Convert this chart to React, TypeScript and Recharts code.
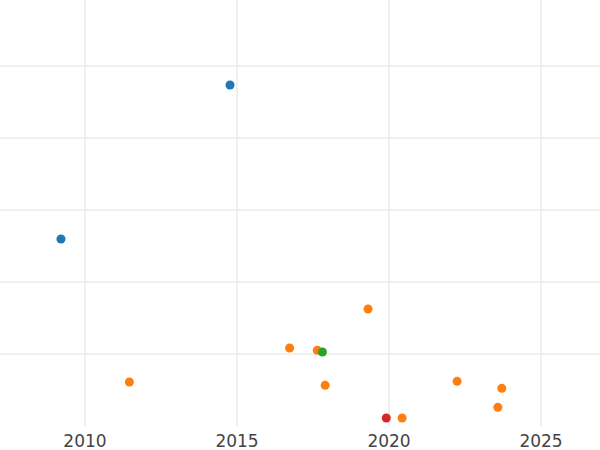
import React from "react";
import { ScatterChart, Scatter, XAxis, YAxis, CartesianGrid } from "recharts";

const xTicks = [2010, 2015, 2020, 2025];
const yTicks = [1, 2, 3, 4, 5];

const blueX = [2014.77, 2009.21];
const blueY = [4.736, 2.597];

const orangeX = [2011.46, 2016.73, 2019.31, 2017.64, 2017.9, 2020.43, 2022.24, 2023.71, 2023.58];
const orangeY = [0.611, 1.083, 1.625, 1.051, 0.565, 0.111, 0.62, 0.523, 0.259];

const greenX = [2017.81];
const greenY = [1.028];

const redX = [2019.91];
const redY = [0.111];

const toPts = (xs: number[], ys: number[]) => xs.map((x, i) => ({ x, y: ys[i] }));

const series = [
  { name: "blue", color: "#1f77b4", data: toPts(blueX, blueY) },
  { name: "orange", color: "#ff7f0e", data: toPts(orangeX, orangeY) },
  { name: "green", color: "#2ca02c", data: toPts(greenX, greenY) },
  { name: "red", color: "#d62728", data: toPts(redX, redY) },
];

const callScale = (axis: any, v: number) => {
  const s = axis && axis.scale;
  if (!s) return NaN;
  if (typeof s === "function") return s(v);
  if (typeof s.map === "function") return s.map(v);
  return NaN;
};

export default function App() {
  return (
    <div style={{ position: "absolute", left: 0, top: 0, width: 600, height: 450, background: "#fff" }}>
      <ScatterChart width={600} height={450} margin={{ top: 0, right: 0, bottom: 0, left: 0 }}>
        <CartesianGrid
          stroke="#ebebeb"
          strokeWidth={1.6}
          horizontalCoordinatesGenerator={(p: any) => yTicks.map((t) => callScale(p.yAxis, t)).filter((v) => !isNaN(v))}
          verticalCoordinatesGenerator={(p: any) => xTicks.map((t) => callScale(p.xAxis, t)).filter((v) => !isNaN(v))}
        />
        <XAxis
          type="number"
          dataKey="x"
          domain={[2007.204, 2026.94]}
          ticks={xTicks}
          allowDataOverflow
          axisLine={false}
          tickLine={false}
          height={24}
          tickMargin={3}
          tick={{ fill: "#444", fontSize: 17, fontFamily: "DejaVu Sans" }}
        />
        <YAxis type="number" dataKey="y" domain={[0, 5.9167]} ticks={yTicks} allowDataOverflow hide />
        {series.map((s) => (
          <Scatter key={s.name} name={s.name} data={s.data} fill={s.color} isAnimationActive={false} />
        ))}
      </ScatterChart>
    </div>
  );
}
